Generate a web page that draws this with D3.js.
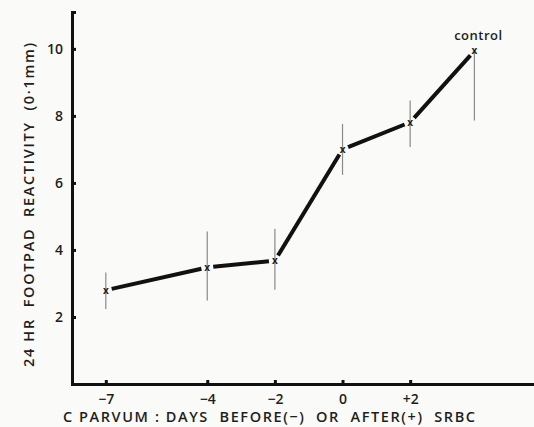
<!DOCTYPE html>
<html>
<head>
<meta charset="utf-8">
<script src="https://cdn.jsdelivr.net/npm/d3@7"></script>
<style>
  html, body { margin: 0; padding: 0; background: #fafaf8; }
  svg { display: block; }
  text { font-family: "Open Sans", "DejaVu Sans", sans-serif; fill: #1e1e1e; }
</style>
</head>
<body>
<svg id="chart" width="534" height="427"></svg>
<script>
// Days of C. parvum relative to SRBC; the last point is the control group
const days = [-7, -4, -2, 0, 2, 3.9];
const pointLabels = ["", "", "", "", "", "control"];
// Mean 24 hr footpad reactivity (0.1 mm)
const reactivity = [2.8, 3.48, 3.68, 7.0, 7.81, 9.94];
// Error bar limits
const errLow = [2.24, 2.49, 2.81, 6.24, 7.07, 7.86];
const errHigh = [3.33, 4.55, 4.63, 7.76, 8.46, 9.94];
// Axis ticks
const xTicks = [-7, -4, -2, 0, 2];
const xTickLabels = ["\u22127", "\u22124", "\u22122", "0", "+2"];
const yTicks = [2, 4, 6, 8, 10];

const svg = d3.select("#chart");

const x = d3.scaleLinear().domain([-8, 5.84]).range([72, 540]);
const y = d3.scaleLinear().domain([0, 11.1]).range([384, 12]);

const data = days.map((d, i) => ({
  day: d, v: reactivity[i], lo: errLow[i], hi: errHigh[i], label: pointLabels[i]
}));

// Error bars
svg.append("g").selectAll("line").data(data).join("line")
  .attr("x1", d => x(d.day)).attr("x2", d => x(d.day))
  .attr("y1", d => y(d.hi)).attr("y2", d => y(d.lo))
  .attr("stroke", "#8a8a8a").attr("stroke-width", 1.2);

// Connecting line, each segment stopping short of the markers
const gap = 6;
const segs = d3.pairs(data).map(([a, b]) => {
  const x1 = x(a.day), y1 = y(a.v), x2 = x(b.day), y2 = y(b.v);
  const len = Math.hypot(x2 - x1, y2 - y1);
  const ux = (x2 - x1) / len, uy = (y2 - y1) / len;
  return [x1 + ux * gap, y1 + uy * gap, x2 - ux * gap, y2 - uy * gap];
});
svg.append("g").selectAll("line").data(segs).join("line")
  .attr("x1", s => s[0]).attr("y1", s => s[1])
  .attr("x2", s => s[2]).attr("y2", s => s[3])
  .attr("stroke", "#111").attr("stroke-width", 4).attr("stroke-linecap", "butt");

// Point markers
svg.append("g").selectAll("text").data(data).join("text")
  .attr("x", d => x(d.day)).attr("y", d => y(d.v) + 3.5)
  .attr("text-anchor", "middle")
  .style("font-size", "10px").style("font-weight", "700")
  .text("x");

// Control label
svg.append("g").selectAll("text").data(data.filter(d => d.label)).join("text")
  .attr("x", d => x(d.day) + 4).attr("y", d => y(d.v) - 11)
  .attr("text-anchor", "middle")
  .style("font-size", "13px").style("font-weight", "600").style("letter-spacing", "0.5px")
  .text(d => d.label);

// Y axis
const yAxis = d3.axisLeft(y).tickValues(yTicks).tickSize(-4).tickPadding(9);
const gy = svg.append("g").attr("transform", "translate(72,0)").call(yAxis);
gy.select(".domain").attr("stroke", "#111").attr("stroke-width", 3);
gy.selectAll(".tick line").attr("stroke", "#111").attr("stroke-width", 3);
gy.selectAll(".tick text").style("font-size", "14px").style("font-weight", "600")
  .style("font-family", "'Open Sans', sans-serif").attr("fill", "#1e1e1e");

// X axis
const xAxis = d3.axisBottom(x).tickValues(xTicks)
  .tickFormat((d, i) => xTickLabels[i]).tickSize(-4).tickPadding(10);
const gx = svg.append("g").attr("transform", "translate(0,384)").call(xAxis);
gx.select(".domain").attr("stroke", "#111").attr("stroke-width", 3);
gx.selectAll(".tick line").attr("stroke", "#111").attr("stroke-width", 3);
gx.selectAll(".tick text").style("font-size", "14px").style("font-weight", "600")
  .style("font-family", "'Open Sans', sans-serif").attr("fill", "#1e1e1e");

// Axis titles
svg.append("text")
  .attr("x", 63).attr("y", 422)
  .attr("textLength", 412).attr("lengthAdjust", "spacing")
  .style("font-size", "14.5px").style("font-weight", "600")
  .attr("xml:space", "preserve")
  .text("C PARVUM : DAYS  BEFORE(\u2212)  OR  AFTER(+)  SRBC");

svg.append("text")
  .attr("transform", "translate(34,205) rotate(-90)")
  .attr("x", -162)
  .attr("textLength", 324).attr("lengthAdjust", "spacing")
  .style("font-size", "14.5px").style("font-weight", "600")
  .attr("xml:space", "preserve")
  .text("24 HR  FOOTPAD  REACTIVITY  (0\u00B71mm)");
</script>
</body>
</html>
